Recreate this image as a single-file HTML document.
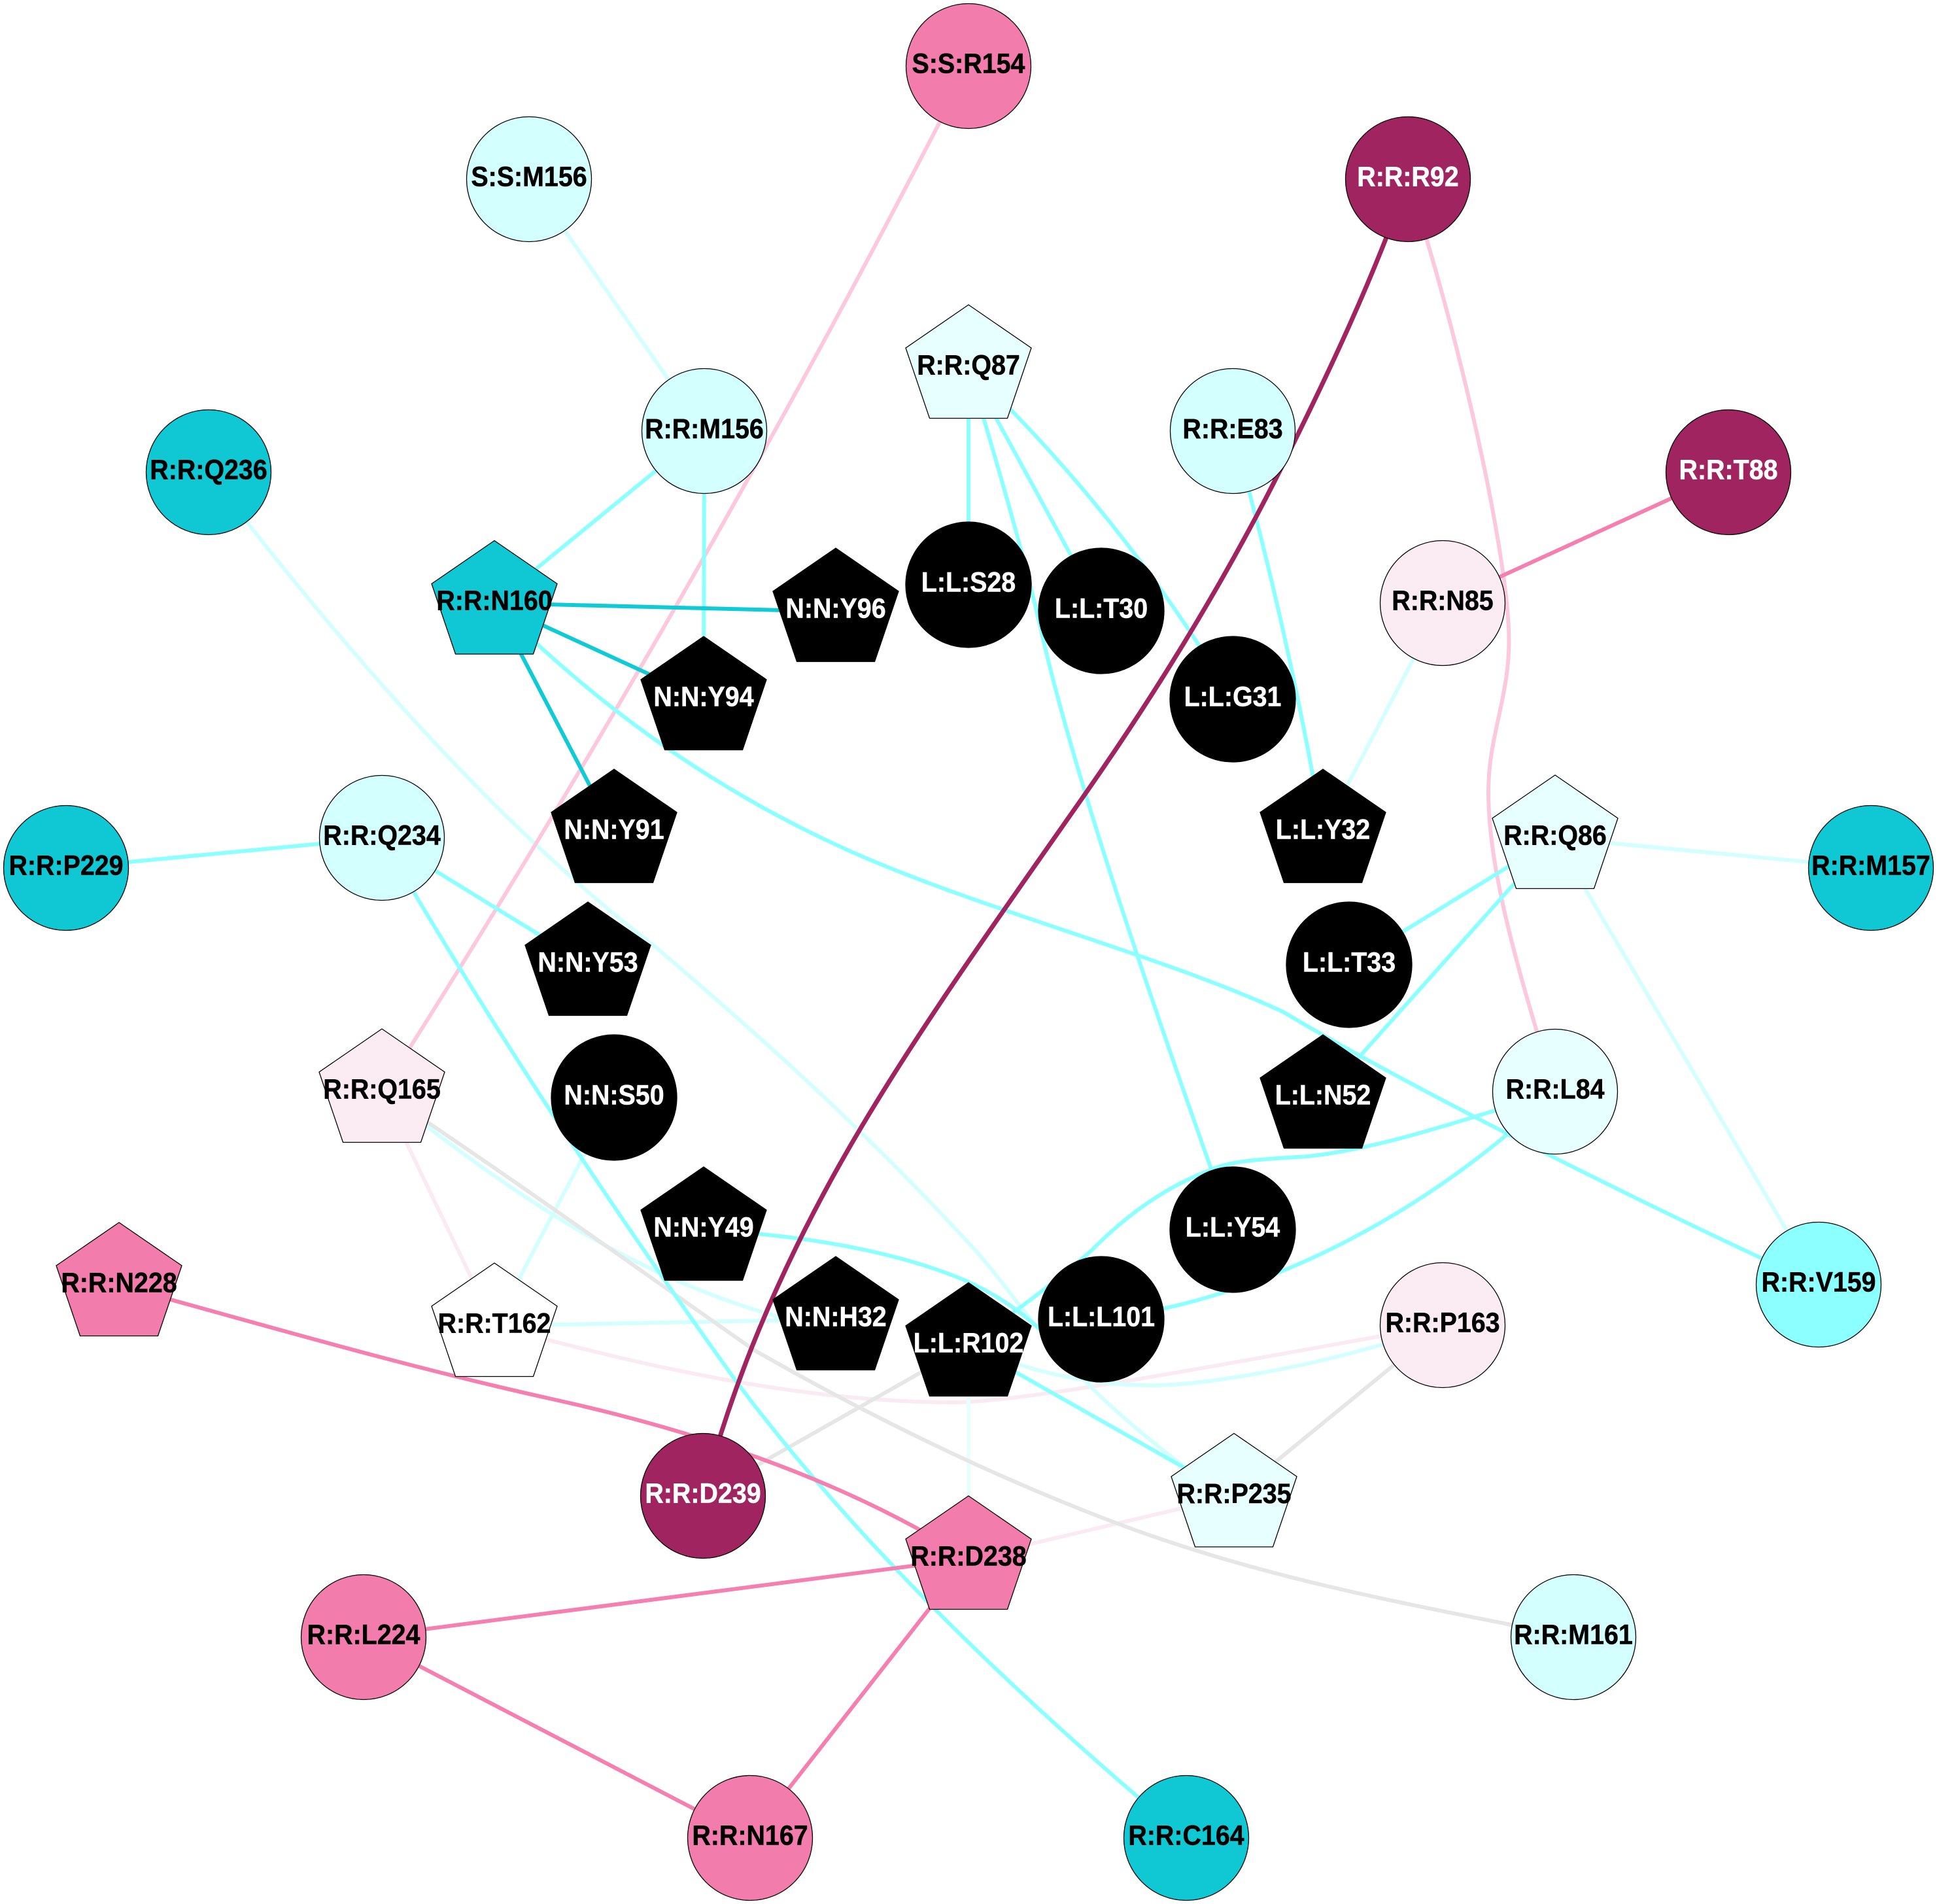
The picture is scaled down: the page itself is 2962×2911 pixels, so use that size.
<!DOCTYPE html>
<html><head><meta charset="utf-8"><title>Residue network</title>
<style>
html,body{margin:0;padding:0;background:#fff}
svg{display:block}
text{font-family:"Liberation Sans",Arial,sans-serif;font-weight:bold;font-size:42.6px;text-anchor:middle;stroke-width:.5px}
.e path,.e line{fill:none;stroke-width:6}
.s{stroke:#000;stroke-width:1.3}
</style></head><body>
<svg xmlns="http://www.w3.org/2000/svg" width="2962" height="2911" viewBox="0 0 2962 2911">
<rect width="2962" height="2911" fill="#fff"/>
<g class="e">
<!-- pale pink -->
<path stroke="#faebf3" d="M584,1669L756,2027"/>
<path stroke="#faebf3" d="M756,2027C990,2090 1225,2144 1459,2144C1570,2144 1900,2080 2206,2026"/>
<path stroke="#faebf3" d="M1481,2383L1887,2287"/>
<!-- very light -->
<path stroke="#e8ffff" d="M1481,2383L1481,2057"/>
<!-- light cyan -->
<path stroke="#d4ffff" d="M809,274L1077,659"/>
<path stroke="#d4ffff" d="M319,722C530,1000 770,1270 1000,1446C1164,1585 1327,1732 1491,1911C1570,2000 1610,2090 1808,2240L1887,2287"/>
<path stroke="#d4ffff" d="M2206,922L2023,1272"/>
<path stroke="#d4ffff" d="M2378,1281L2861,1327"/>
<path stroke="#d4ffff" d="M2378,1281L2781,1964"/>
<path stroke="#d4ffff" d="M939,1678L756,2027"/>
<path stroke="#d4ffff" d="M756,2027L1278,2017"/>
<path stroke="#d4ffff" d="M584,1669C790,1830 990,1975 1278,2035"/>
<path stroke="#d4ffff" d="M1481,2057C1600,2110 1720,2125 1820,2115C1950,2100 2080,2070 2206,2026"/>
<!-- grey -->
<path stroke="#e6e6e6" d="M584,1669C774,1795 963,1931 1153,2064C1338,2170 1523,2259 1708,2329C1941,2417 2173,2456 2406,2503"/>
<path stroke="#e6e6e6" d="M1075,2287L1481,2057"/>
<path stroke="#e6e6e6" d="M2206,2026L1887,2287"/>
<!-- pink light -->
<path stroke="#fcc8de" d="M1481,101Q1070,907 584,1669"/>
<path stroke="#fcc8de" d="M2153,274C2230,510 2300,820 2307,960C2312,1060 2276,1120 2276,1210C2276,1330 2320,1480 2378,1669"/>
<!-- cyan -->
<path stroke="#8cffff" d="M1077,659L756,922"/>
<path stroke="#8cffff" d="M1077,659L1076,1069"/>
<path stroke="#8cffff" d="M756,922C936,1102 1117,1219 1297,1300C1500,1391 1780,1462 1962,1547C2160,1665 2520,1845 2781,1964"/>
<path stroke="#8cffff" d="M1481,562L1481,894"/>
<path stroke="#8cffff" d="M1481,562C1545,775 1570,870 1590,955C1640,1180 1760,1530 1885,1880"/>
<path stroke="#8cffff" d="M1481,562L1684,934"/>
<path stroke="#8cffff" d="M1481,562Q1717,788 1885,1069"/>
<path stroke="#8cffff" d="M1885,659Q1970,962 2023,1272"/>
<path stroke="#8cffff" d="M2378,1281L2063,1475"/>
<path stroke="#8cffff" d="M2378,1281L2023,1678"/>
<path stroke="#8cffff" d="M584,1281L101,1327"/>
<path stroke="#8cffff" d="M584,1281L899,1475"/>
<path stroke="#8cffff" d="M584,1281C745,1559 928,1837 1128,2115C1302,2347 1536,2578 1814,2810"/>
<path stroke="#8cffff" d="M1076,1880C1200,1887 1340,1905 1457,1950C1510,1970 1560,2000 1620,2060"/>
<path stroke="#8cffff" d="M2378,1669C2200,1725 2100,1757 2000,1768C1930,1772 1880,1775 1853,1788C1780,1815 1720,1860 1670,1911C1620,1955 1560,2000 1481,2057"/>
<path stroke="#8cffff" d="M2378,1669C2200,1840 1950,1985 1684,2017"/>
<path stroke="#8cffff" d="M1481,2057L1887,2287"/>
<!-- teal -->
<path stroke="#10cbd6" d="M756,922L1278,935"/>
<path stroke="#10cbd6" d="M756,922L1076,1069"/>
<path stroke="#10cbd6" d="M756,922L939,1272"/>
<!-- pink -->
<path stroke="#f47fb0" d="M2206,922L2643,722"/>
<path stroke="#f47fb0" d="M182,1965C403,2026 623,2090 844,2139C1040,2182 1280,2255 1481,2383"/>
<path stroke="#f47fb0" d="M1481,2383L556,2503"/>
<path stroke="#f47fb0" d="M556,2503L1147,2810"/>
<path stroke="#f47fb0" d="M1481,2383L1147,2810"/>
<!-- dark -->
<path stroke="#a02460" style="stroke-width:7" d="M2153,274C2102,421 2033.5,567 1960,714C1877,880 1776,1047 1660,1213C1542,1382 1420,1551 1319,1720C1206,1909 1124,2098 1075,2287"/>
</g>

<!-- circles -->
<g class="s">
<circle cx="1481" cy="101" r="95.5" fill="#f27cac"/>
<circle cx="809" cy="274" r="95.5" fill="#d4ffff"/>
<circle cx="2153" cy="274" r="95.5" fill="#a02460"/>
<circle cx="1077" cy="659" r="95.5" fill="#d4ffff"/>
<circle cx="1885" cy="659" r="95.5" fill="#d4ffff"/>
<circle cx="319" cy="722" r="95.5" fill="#10c8d4"/>
<circle cx="2643" cy="722" r="95.5" fill="#a02460"/>
<circle cx="2206" cy="922" r="95.5" fill="#fbecf4"/>
<circle cx="1481" cy="894" r="96" fill="#000"/>
<circle cx="1684" cy="934" r="96" fill="#000"/>
<circle cx="1885" cy="1069" r="96" fill="#000"/>
<circle cx="584" cy="1281" r="95.5" fill="#d4ffff"/>
<circle cx="101" cy="1327" r="95.5" fill="#10c8d4"/>
<circle cx="2861" cy="1327" r="95.5" fill="#10c8d4"/>
<circle cx="2063" cy="1475" r="96" fill="#000"/>
<circle cx="2378" cy="1669" r="95.5" fill="#e8ffff"/>
<circle cx="939" cy="1678" r="96" fill="#000"/>
<circle cx="1885" cy="1880" r="96" fill="#000"/>
<circle cx="2781" cy="1964" r="95.5" fill="#8cffff"/>
<circle cx="1684" cy="2017" r="96" fill="#000"/>
<circle cx="2206" cy="2026" r="95.5" fill="#fbecf4"/>
<circle cx="1075" cy="2287" r="95.5" fill="#a02460"/>
<circle cx="556" cy="2503" r="95.5" fill="#f27cac"/>
<circle cx="2406" cy="2503" r="95.5" fill="#d4ffff"/>
<circle cx="1147" cy="2810" r="95.5" fill="#f27cac"/>
<circle cx="1814" cy="2810" r="95.5" fill="#10c8d4"/>
</g>

<!-- pentagons -->
<g class="s">
<polygon transform="translate(1481,562)" fill="#e8ffff" points="0,-96 96,-30 59.5,77.5 -59.5,77.5 -96,-30"/>
<polygon transform="translate(756,922.5)" fill="#10c8d4" points="0,-96 96,-30 59.5,77.5 -59.5,77.5 -96,-30"/>
<polygon transform="translate(1278,934)" fill="#000" points="0,-96 96,-30 59.5,77.5 -59.5,77.5 -96,-30"/>
<polygon transform="translate(1076,1069)" fill="#000" points="0,-96 96,-30 59.5,77.5 -59.5,77.5 -96,-30"/>
<polygon transform="translate(939,1272)" fill="#000" points="0,-96 96,-30 59.5,77.5 -59.5,77.5 -96,-30"/>
<polygon transform="translate(2023,1272)" fill="#000" points="0,-96 96,-30 59.5,77.5 -59.5,77.5 -96,-30"/>
<polygon transform="translate(2378,1281)" fill="#e8ffff" points="0,-96 96,-30 59.5,77.5 -59.5,77.5 -96,-30"/>
<polygon transform="translate(899,1475)" fill="#000" points="0,-96 96,-30 59.5,77.5 -59.5,77.5 -96,-30"/>
<polygon transform="translate(584,1669)" fill="#fbecf4" points="0,-96 96,-30 59.5,77.5 -59.5,77.5 -96,-30"/>
<polygon transform="translate(2023,1678)" fill="#000" points="0,-96 96,-30 59.5,77.5 -59.5,77.5 -96,-30"/>
<polygon transform="translate(1076,1880)" fill="#000" points="0,-96 96,-30 59.5,77.5 -59.5,77.5 -96,-30"/>
<polygon transform="translate(182,1965)" fill="#f27cac" points="0,-96 96,-30 59.5,77.5 -59.5,77.5 -96,-30"/>
<polygon transform="translate(756,2027)" fill="#fff" points="0,-96 96,-30 59.5,77.5 -59.5,77.5 -96,-30"/>
<polygon transform="translate(1278,2017)" fill="#000" points="0,-96 96,-30 59.5,77.5 -59.5,77.5 -96,-30"/>
<polygon transform="translate(1481,2057)" fill="#000" points="0,-96 96,-30 59.5,77.5 -59.5,77.5 -96,-30"/>
<polygon transform="translate(1887,2287.5)" fill="#e8ffff" points="0,-96 96,-30 59.5,77.5 -59.5,77.5 -96,-30"/>
<polygon transform="translate(1481,2383)" fill="#f27cac" points="0,-96 96,-30 59.5,77.5 -59.5,77.5 -96,-30"/>
</g>

<!-- labels -->
<g fill="#000" stroke="#000">
<text transform="translate(1481,111.5) scale(.925,1)">S:S:R154</text>
<text transform="translate(809,284.5) scale(.925,1)">S:S:M156</text>
<text transform="translate(1077,670) scale(.925,1)">R:R:M156</text>
<text transform="translate(1885,670) scale(.925,1)">R:R:E83</text>
<text transform="translate(319,732.5) scale(.925,1)">R:R:Q236</text>
<text transform="translate(2206,932.5) scale(.925,1)">R:R:N85</text>
<text transform="translate(584,1291.5) scale(.925,1)">R:R:Q234</text>
<text transform="translate(101,1337.5) scale(.925,1)">R:R:P229</text>
<text transform="translate(2861,1337.5) scale(.925,1)">R:R:M157</text>
<text transform="translate(2378,1679.5) scale(.925,1)">R:R:L84</text>
<text transform="translate(2781,1974.5) scale(.925,1)">R:R:V159</text>
<text transform="translate(2206,2036.5) scale(.925,1)">R:R:P163</text>
<text transform="translate(556,2513.5) scale(.925,1)">R:R:L224</text>
<text transform="translate(2406,2513.5) scale(.925,1)">R:R:M161</text>
<text transform="translate(1147,2820.5) scale(.925,1)">R:R:N167</text>
<text transform="translate(1814,2820.5) scale(.925,1)">R:R:C164</text>
<text transform="translate(1481,572.5) scale(.925,1)">R:R:Q87</text>
<text transform="translate(756,932.5) scale(.925,1)">R:R:N160</text>
<text transform="translate(2378,1291.5) scale(.925,1)">R:R:Q86</text>
<text transform="translate(584,1679.5) scale(.925,1)">R:R:Q165</text>
<text transform="translate(182,1975.5) scale(.925,1)">R:R:N228</text>
<text transform="translate(756,2037.5) scale(.925,1)">R:R:T162</text>
<text transform="translate(1887,2298) scale(.925,1)">R:R:P235</text>
<text transform="translate(1481,2393.5) scale(.925,1)">R:R:D238</text>
</g>
<g fill="#fff" stroke="#fff">
<text transform="translate(2153,284.5) scale(.925,1)">R:R:R92</text>
<text transform="translate(2643,732.5) scale(.925,1)">R:R:T88</text>
<text transform="translate(1075,2297.5) scale(.925,1)">R:R:D239</text>
<text transform="translate(1481,904.5) scale(.925,1)">L:L:S28</text>
<text transform="translate(1684,944.5) scale(.925,1)">L:L:T30</text>
<text transform="translate(1885,1079.5) scale(.925,1)">L:L:G31</text>
<text transform="translate(2063,1485.5) scale(.925,1)">L:L:T33</text>
<text transform="translate(939,1688.5) scale(.925,1)">N:N:S50</text>
<text transform="translate(1885,1890.5) scale(.925,1)">L:L:Y54</text>
<text transform="translate(1684,2027.5) scale(.925,1)">L:L:L101</text>
<text transform="translate(1278,944.5) scale(.925,1)">N:N:Y96</text>
<text transform="translate(1076,1079.5) scale(.925,1)">N:N:Y94</text>
<text transform="translate(939,1282.5) scale(.925,1)">N:N:Y91</text>
<text transform="translate(2023,1282.5) scale(.925,1)">L:L:Y32</text>
<text transform="translate(899,1485.5) scale(.925,1)">N:N:Y53</text>
<text transform="translate(2023,1688.5) scale(.925,1)">L:L:N52</text>
<text transform="translate(1076,1890.5) scale(.925,1)">N:N:Y49</text>
<text transform="translate(1278,2027.5) scale(.925,1)">N:N:H32</text>
<text transform="translate(1481,2067.5) scale(.925,1)">L:L:R102</text>
</g>
</svg>
</body></html>
